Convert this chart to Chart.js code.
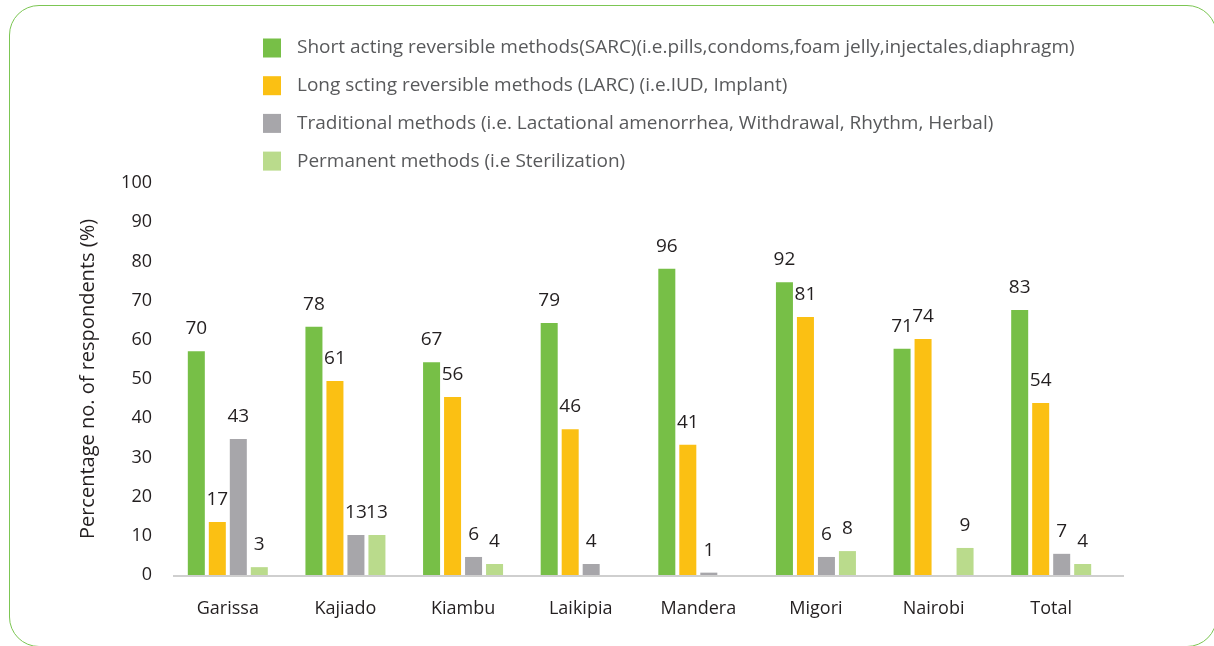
<!DOCTYPE html>
<html>
<head>
<meta charset="utf-8">
<title>Contraceptive methods by county</title>
<script src="https://cdn.jsdelivr.net/npm/chart.js@4.4.1/dist/chart.umd.min.js"></script>
<style>
  html, body { margin: 0; padding: 0; background: #fff; }
  #wrap { position: relative; width: 1214px; height: 646px; overflow: hidden; }
  #frame {
    position: absolute; left: 9px; top: 5px; width: 1208px; height: 642px;
    border: 1.5px solid #7cc653; border-radius: 30px; box-sizing: border-box;
  }
  canvas { position: absolute; left: 0; top: 0; }
</style>
</head>
<body>
<div id="wrap">
  <div id="frame"></div>
  <canvas id="methodsChart" width="1214" height="646"></canvas>
</div>
<script>
// ── DATA ──────────────────────────────────────────────
const counties = ['Garissa', 'Kajiado', 'Kiambu', 'Laikipia', 'Mandera', 'Migori', 'Nairobi', 'Total'];

const seriesNames = [
  'Short acting reversible methods(SARC)(i.e.pills,condoms,foam jelly,injectales,diaphragm)',
  'Long scting reversible methods (LARC) (i.e.IUD, Implant)',
  'Traditional methods (i.e. Lactational amenorrhea, Withdrawal, Rhythm, Herbal)',
  'Permanent methods (i.e Sterilization)'
];

// bar heights as drawn against the axis
const sarcBars = [57.1, 63.3, 54.3, 64.3, 78.1, 74.7, 57.7, 67.6];
const larcBars = [13.5, 49.5, 45.4, 37.2, 33.2, 65.8, 60.2, 43.9];
const tradBars = [34.7, 10.2, 4.6, 2.8, 0.6, 4.6, null, 5.4];
const permBars = [2.0, 10.2, 2.8, null, null, 6.1, 6.9, 2.8];

// numbers printed above the bars
const sarcLabels = [70, 78, 67, 79, 96, 92, 71, 83];
const larcLabels = [17, 61, 56, 46, 41, 81, 74, 54];
const tradLabels = [43, 13, 6, 4, 1, 6, null, 7];
const permLabels = [3, 13, 4, null, null, 8, 9, 4];

const yTicks = [0, 10, 20, 30, 40, 50, 60, 70, 80, 90, 100];

const colors = ['#77bf47', '#fbc013', '#a7a6aa', '#badb8c'];

const FONT = "'Open Sans', sans-serif";

// ── PLUGINS ───────────────────────────────────────────
// value labels above each bar
const valueLabels = {
  id: 'valueLabels',
  afterDatasetsDraw(chart) {
    const ctx = chart.ctx;
    ctx.save();
    ctx.font = '19px ' + FONT;
    ctx.fillStyle = '#231f20';
    ctx.textAlign = 'center';
    ctx.textBaseline = 'alphabetic';
    chart.data.datasets.forEach((ds, di) => {
      const meta = chart.getDatasetMeta(di);
      meta.data.forEach((bar, i) => {
        const txt = ds.printed[i];
        if (txt === null || ds.data[i] === null) return;
        ctx.fillText(String(txt), bar.x, bar.y - 17);
      });
    });
    ctx.restore();
  }
};

// baseline under the bars (runs a bit past the last group)
const baseLine = {
  id: 'baseLine',
  beforeDatasetsDraw(chart) {
    const { ctx, chartArea } = chart;
    ctx.save();
    ctx.strokeStyle = '#cfcfcf';
    ctx.lineWidth = 2;
    ctx.beginPath();
    ctx.moveTo(chartArea.left + 4, chartArea.bottom + 1);
    ctx.lineTo(chartArea.right + 14, chartArea.bottom + 1);
    ctx.stroke();
    ctx.restore();
  }
};

// stacked legend at the top
const sideLegend = {
  id: 'sideLegend',
  afterDraw(chart) {
    const ctx = chart.ctx;
    ctx.save();
    ctx.font = '19px ' + FONT;
    ctx.textBaseline = 'middle';
    ctx.textAlign = 'left';
    chart.data.datasets.forEach((ds, i) => {
      const cy = 48 + i * 37.7;
      ctx.fillStyle = ds.backgroundColor;
      ctx.fillRect(263, cy - 9.5, 18, 19);
      ctx.fillStyle = '#58595b';
      ctx.fillText(ds.label, 297, cy);
    });
    ctx.restore();
  }
};

// ── CHART ─────────────────────────────────────────────
const barSets = [sarcBars, larcBars, tradBars, permBars];
const labelSets = [sarcLabels, larcLabels, tradLabels, permLabels];

new Chart(document.getElementById('methodsChart').getContext('2d'), {
  type: 'bar',
  data: {
    labels: counties,
    datasets: seriesNames.map((name, i) => ({
      label: name,
      data: barSets[i],
      printed: labelSets[i],
      backgroundColor: colors[i],
      borderWidth: 0,
      categoryPercentage: 0.714,
      barPercentage: 0.81
    }))
  },
  options: {
    responsive: false,
    animation: false,
    devicePixelRatio: 1,
    layout: { padding: { top: 183, right: 104, left: 0, bottom: 0 } },
    plugins: {
      legend: { display: false },
      tooltip: { enabled: false }
    },
    scales: {
      x: {
        grid: { display: false },
        border: { display: false },
        ticks: { color: '#231f20', font: { family: FONT, size: 18 }, padding: 15, maxRotation: 0 },
        afterFit: s => { s.height = 71; }
      },
      y: {
        min: 0,
        max: 100,
        afterBuildTicks: s => { s.ticks = yTicks.map(v => ({ value: v })); },
        grid: { display: false },
        border: { display: false },
        ticks: { color: '#231f20', font: { family: FONT, size: 18 }, padding: 9 },
        title: {
          display: true,
          text: 'Percentage no. of respondents (%)',
          color: '#231f20',
          font: { family: FONT, size: 20 },
          padding: { top: 76, bottom: 0 }
        },
        afterFit: s => { s.width = 169; }
      }
    }
  },
  plugins: [baseLine, valueLabels, sideLegend]
});
</script>
</body>
</html>
